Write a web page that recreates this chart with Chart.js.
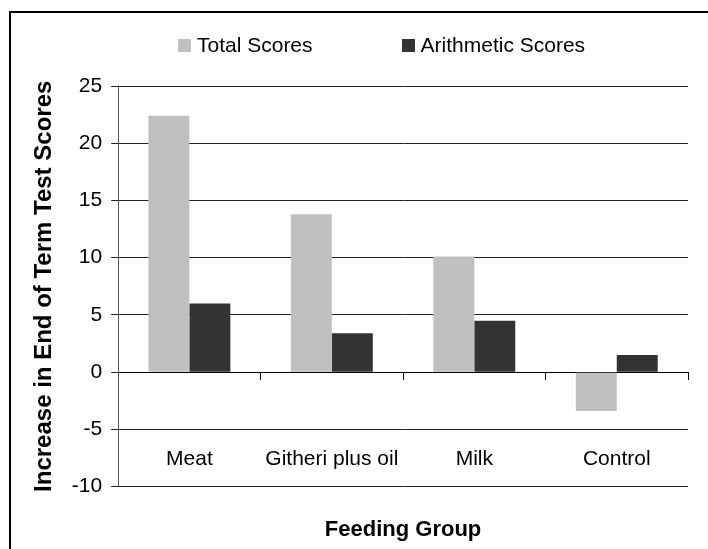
<!DOCTYPE html>
<html>
<head>
<meta charset="utf-8">
<script src="https://cdn.jsdelivr.net/npm/chart.js@4"></script>
<style>
  html, body { margin: 0; padding: 0; background: #fff; overflow: hidden; }
  #frame { position: absolute; left: 9px; top: 11px; width: 760px; height: 600px; border: 2px solid #000; }
  #wrap { position: absolute; left: 0; top: 0; width: 708px; height: 549px; }
  #legend { position: absolute; left: 178px; top: 33px; display: flex; gap: 89px;
            font: 21px 'Liberation Sans', Arial, sans-serif; color: #000; }
  #legend .item { display: flex; align-items: center; }
  #legend .box { width: 13px; height: 13px; margin-right: 6px; }
</style>
</head>
<body>
<div id="frame"></div>
<div id="wrap"><canvas id="scoresChart"></canvas></div>
<div id="legend"></div>
<script>
const categories = ['Meat', 'Githeri plus oil', 'Milk', 'Control'];
const totalScores = [22.4, 13.8, 10.1, -3.4];
const arithmeticScores = [6.0, 3.4, 4.5, 1.5];
const seriesNames = ['Total Scores', 'Arithmetic Scores'];
const yTicks = { min: -10, max: 25, step: 5 };

Chart.defaults.font.family = "'Liberation Sans', Arial, sans-serif";
Chart.defaults.font.size = 21;
Chart.defaults.color = '#000';

const ctx = document.getElementById('scoresChart').getContext('2d');

const chart = new Chart(ctx, {
  type: 'bar',
  data: {
    labels: categories,
    datasets: [{
      label: seriesNames[0],
      data: totalScores,
      backgroundColor: '#c0c0c0',
      borderWidth: 0
    }, {
      label: seriesNames[1],
      data: arithmeticScores,
      backgroundColor: '#333333',
      borderWidth: 0
    }]
  },
  options: {
    responsive: true,
    maintainAspectRatio: false,
    animation: false,
    layout: { padding: { left: 10, right: 20, top: 86, bottom: 0 } },
    datasets: { bar: { categoryPercentage: 0.575, barPercentage: 1.0 } },
    scales: {
      // bottom axis only carries the title
      x: {
        position: 'bottom',
        grid: { display: false, drawTicks: false },
        border: { display: false },
        ticks: { display: false },
        title: {
          display: true,
          text: 'Feeding Group',
          font: { size: 22, weight: 'bold' },
          padding: { top: 30, bottom: 6 }
        }
      },
      // zero line with the category ticks; labels hang well below it (tall line height)
      x2: {
        axis: 'x',
        type: 'category',
        position: { y: 0 },
        offset: true,
        grid: { offset: true, drawOnChartArea: false, drawTicks: true, tickLength: 7, color: '#000' },
        border: { color: '#000', width: 1 },
        ticks: { padding: 50, maxRotation: 0, autoSkip: false, font: { lineHeight: 2.83 } }
      },
      y: {
        min: yTicks.min,
        max: yTicks.max,
        ticks: { stepSize: yTicks.step, padding: 9 },
        grid: { color: '#222', tickLength: 7 },
        border: { color: '#555' },
        title: {
          display: true,
          text: 'Increase in End of Term Test Scores',
          font: { size: 24, weight: 'bold' },
          padding: { top: 20, bottom: 4 }
        }
      }
    },
    plugins: {
      legend: { display: false },
      tooltip: { enabled: false }
    }
  }
});

// html legend built from the chart's own legend items
const legendEl = document.getElementById('legend');
chart.options.plugins.legend.labels.generateLabels(chart).forEach(function (item) {
  const div = document.createElement('div');
  div.className = 'item';
  const box = document.createElement('span');
  box.className = 'box';
  box.style.background = item.fillStyle;
  const txt = document.createElement('span');
  txt.textContent = item.text;
  div.appendChild(box);
  div.appendChild(txt);
  legendEl.appendChild(div);
});
</script>
</body>
</html>
